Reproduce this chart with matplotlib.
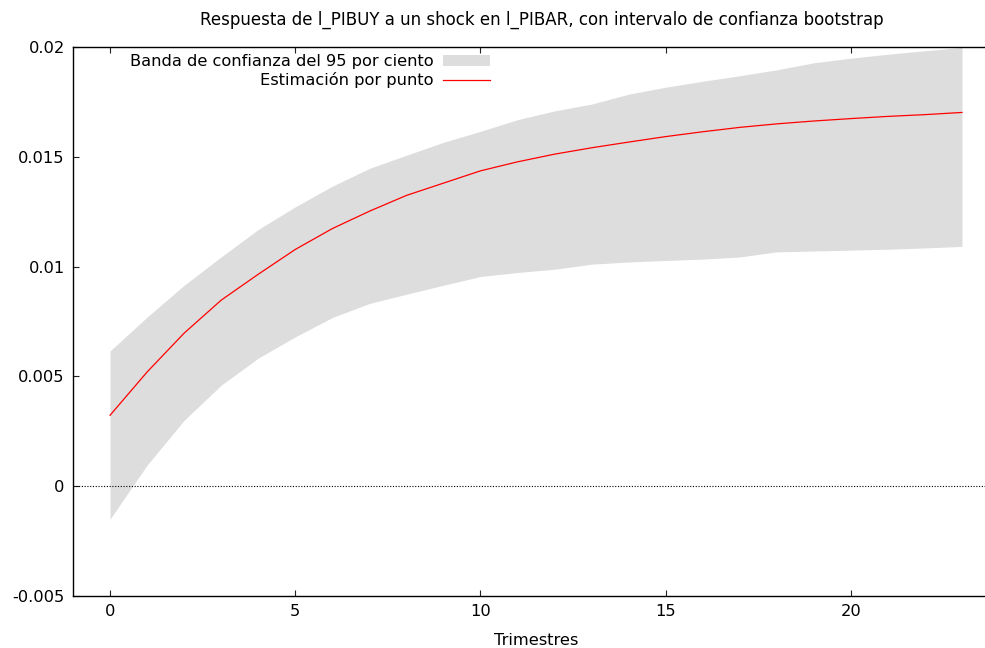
import numpy as np
import matplotlib.pyplot as plt

# ── Data ──────────────────────────────────────────────────────────────────────
periods = np.arange(24)
resp = [0.00323, 0.00520, 0.00697, 0.00847, 0.00965, 0.01078, 0.01173, 0.01252,
        0.01324, 0.01380, 0.01436, 0.01477, 0.01512, 0.01541, 0.01567, 0.01592,
        0.01614, 0.01634, 0.01650, 0.01663, 0.01674, 0.01684, 0.01692, 0.01702]
upper = [0.00616, 0.00770, 0.00915, 0.01044, 0.01169, 0.01272, 0.01366, 0.01447,
         0.01507, 0.01566, 0.01616, 0.01669, 0.01709, 0.01740, 0.01785, 0.01817,
         0.01844, 0.01869, 0.01896, 0.01928, 0.01949, 0.01967, 0.01983, 0.01998]
lower = [-0.00150, 0.00096, 0.00300, 0.00460, 0.00583, 0.00680, 0.00768, 0.00832,
         0.00874, 0.00915, 0.00955, 0.00973, 0.00988, 0.01011, 0.01021, 0.01028,
         0.01034, 0.01044, 0.01067, 0.01071, 0.01075, 0.01079, 0.01085, 0.01092]

xticks = [0, 5, 10, 15, 20]
yticks = [-0.005, 0, 0.005, 0.01, 0.015, 0.02]
ytick_labels = ['-0.005', '0', '0.005', '0.01', '0.015', '0.02']

title = 'Respuesta de l_PIBUY a un shock en l_PIBAR, con intervalo de confianza bootstrap'

# ── Plot ──────────────────────────────────────────────────────────────────────
W, H = 985, 648
fig = plt.figure(figsize=(W / 100, H / 100), dpi=100)
# axes runs a little past the right edge, like the gnuplot original
ax = fig.add_axes([73 / W, 1 - 596 / H, (999 - 73) / W, (596 - 47) / H])

ax.fill_between(periods, lower, upper, color='#dddddd', linewidth=0,
                label='Banda de confianza del 95 por ciento')
ax.plot(periods, resp, color='red', linewidth=0.9, label='Estimación por punto')
ax.axhline(0, color='black', linewidth=0.8, linestyle=(0, (1, 1.5)))

ax.set_xlim(-1, 24)
ax.set_ylim(-0.005, 0.02)
ax.set_xticks(xticks)
ax.set_yticks(yticks)
ax.set_yticklabels(ytick_labels)
ax.tick_params(direction='in', length=4, width=0.8, labelsize=11.7, pad=6,
               top=True, right=False, colors='#222222', labelcolor='black')
for sp in ax.spines.values():
    sp.set_linewidth(1.0)
ax.spines['right'].set_visible(False)

ax.set_xlabel('Trimestres', fontsize=11.7, labelpad=10)
fig.text(542 / W, 1 - 20 / H, title, ha='center', va='center', fontsize=12)

ax.legend(loc='upper right', bbox_to_anchor=(490 / W, 1 - 54 / H),
          bbox_transform=fig.transFigure, frameon=False, markerfirst=False,
          fontsize=11.7, handlelength=2.9, handletextpad=0.6, labelspacing=0.2,
          borderaxespad=0, borderpad=0)

fig.savefig('out.png', dpi=100)
